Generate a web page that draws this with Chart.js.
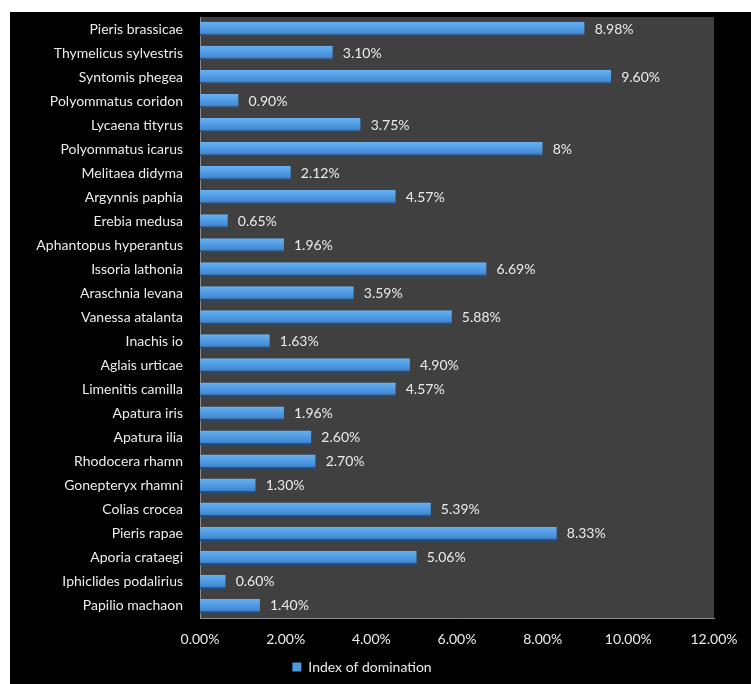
<!DOCTYPE html>
<html>
<head>
<meta charset="utf-8">
<script src="https://cdn.jsdelivr.net/npm/chart.js@4"></script>
<style>
    html, body { margin: 0; padding: 0; background: #fff; }
    #frame { position: absolute; left: 10px; top: 12px; width: 741px; height: 672px; background: #000; }
</style>
</head>
<body>
<div id="frame"><canvas id="chart"></canvas></div>
<script>
// Especies (de arriba hacia abajo) y su índice de dominancia (%)
const species = [
    'Pieris brassicae', 'Thymelicus sylvestris', 'Syntomis phegea', 'Polyommatus coridon',
    'Lycaena tityrus', 'Polyommatus icarus', 'Melitaea didyma', 'Argynnis paphia',
    'Erebia medusa', 'Aphantopus hyperantus', 'Issoria lathonia', 'Araschnia levana',
    'Vanessa atalanta', 'Inachis io', 'Aglais urticae', 'Limenitis camilla',
    'Apatura iris', 'Apatura ilia', 'Rhodocera rhamn', 'Gonepteryx rhamni',
    'Colias crocea', 'Pieris rapae', 'Aporia crataegi', 'Iphiclides podalirius',
    'Papilio machaon'
];
const domination = [
    8.98, 3.10, 9.60, 0.90, 3.75, 8, 2.12, 4.57, 0.65, 1.96, 6.69, 3.59,
    5.88, 1.63, 4.90, 4.57, 1.96, 2.60, 2.70, 1.30, 5.39, 8.33, 5.06, 0.60, 1.40
];
const valueLabels = [
    '8.98%', '3.10%', '9.60%', '0.90%', '3.75%', '8%', '2.12%', '4.57%', '0.65%', '1.96%',
    '6.69%', '3.59%', '5.88%', '1.63%', '4.90%', '4.57%', '1.96%', '2.60%', '2.70%', '1.30%',
    '5.39%', '8.33%', '5.06%', '0.60%', '1.40%'
];
const xTicks = [0, 2, 4, 6, 8, 10, 12];

const FONT = 'Lato, "Open Sans", sans-serif';
const TXT = '#ececec';

// Fondo gris del área de trazado
const plotBg = {
    id: 'plotBg',
    beforeDraw(chart) {
        const {ctx, chartArea: a} = chart;
        ctx.save();
        ctx.fillStyle = '#404040';
        ctx.fillRect(a.left, a.top, a.right - a.left, a.bottom - a.top);
        ctx.restore();
    }
};

// Etiquetas de valor a la derecha de cada barra
const barLabels = {
    id: 'barLabels',
    afterDatasetsDraw(chart) {
        const {ctx} = chart;
        const meta = chart.getDatasetMeta(0);
        ctx.save();
        ctx.fillStyle = TXT;
        ctx.font = '14px ' + FONT;
        ctx.textBaseline = 'middle';
        meta.data.forEach((bar, i) => {
            ctx.fillText(valueLabels[i], bar.x + 10, bar.y);
        });
        ctx.restore();
    }
};

// Degradado vertical por barra (más claro arriba)
const barFill = c => {
    const {chart, dataIndex} = c;
    const y = chart.scales && chart.scales.y;
    if (!y || dataIndex === undefined) return '#4A90DA';
    const cy = y.getPixelForValue(dataIndex);
    const g = chart.ctx.createLinearGradient(0, cy - 7, 0, cy + 7);
    g.addColorStop(0, '#66B0F2');
    g.addColorStop(0.5, '#4F99E2');
    g.addColorStop(1, '#3A7CC4');
    return g;
};

new Chart(document.getElementById('chart'), {
    type: 'bar',
    data: {
        labels: species,
        datasets: [{
            label: 'Index of domination',
            data: domination,
            backgroundColor: barFill,
            borderColor: '#27507E',
            borderWidth: {top: 0, right: 0, bottom: 2, left: 0},
            borderSkipped: false,
            categoryPercentage: 0.6,
            barPercentage: 1
        }]
    },
    options: {
        indexAxis: 'y',
        responsive: true,
        maintainAspectRatio: false,
        animation: false,
        layout: {padding: {top: 5, right: 37, left: 0, bottom: 0}},
        plugins: {
            tooltip: {enabled: false},
            legend: {
                position: 'bottom',
                labels: {
                    color: TXT,
                    font: {family: FONT, size: 14},
                    boxWidth: 9,
                    boxHeight: 9,
                    padding: 10,
                    generateLabels: chart => [{
                        text: chart.data.datasets[0].label,
                        fillStyle: '#4F99E2',
                        strokeStyle: '#4F99E2',
                        lineWidth: 0,
                        fontColor: TXT,
                        datasetIndex: 0
                    }]
                }
            }
        },
        scales: {
            x: {
                min: 0,
                max: 12,
                afterBuildTicks: s => { s.ticks = xTicks.map(v => ({value: v})); },
                grid: {display: false, drawTicks: false},
                border: {display: true, color: '#8c8c8c', width: 1},
                ticks: {
                    color: TXT,
                    font: {family: FONT, size: 14},
                    padding: 13,
                    maxRotation: 0,
                    callback: v => v.toFixed(2) + '%'
                },
                afterFit: s => { s.height = 32; }
            },
            y: {
                grid: {display: false, drawTicks: false},
                border: {display: true, color: '#8c8c8c', width: 1},
                ticks: {
                    color: TXT,
                    font: {family: FONT, size: 14},
                    padding: 17,
                    autoSkip: false
                },
                afterFit: s => { s.width = 190; s.paddingTop = 0; s.paddingBottom = 0; }
            }
        }
    },
    plugins: [plotBg, barLabels]
});
</script>
</body>
</html>
